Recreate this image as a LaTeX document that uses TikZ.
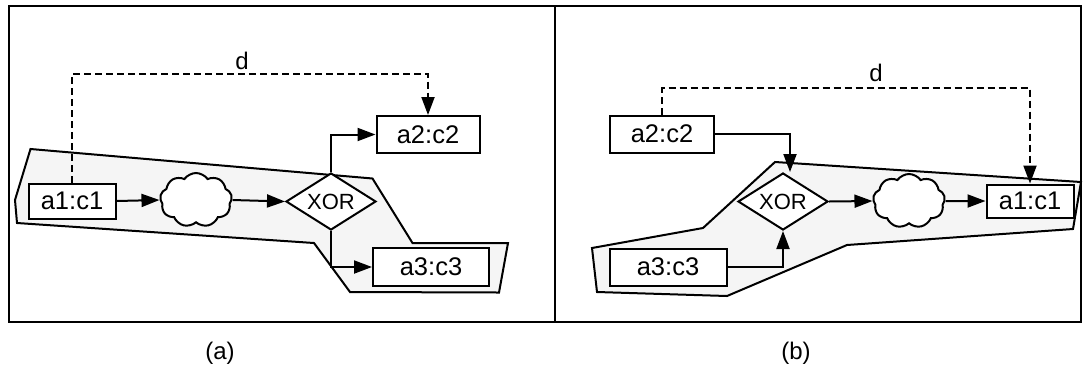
\documentclass[tikz,border=0pt]{standalone}
\usepackage{fontspec}
\setmainfont{Liberation Sans}
\usetikzlibrary{arrows.meta,shapes.geometric,shapes.symbols}
\definecolor{fillg}{RGB}{245,245,245}
\begin{document}
\begin{tikzpicture}[x=1pt,y=-1pt, line width=2pt,
  box/.style={draw, rectangle, inner sep=0pt, font=\fontsize{25.5}{28}\selectfont, fill=white},
  gate/.style={draw, diamond, minimum width=90pt, minimum height=57pt, inner sep=0pt, aspect=1.58, fill=white, font=\fontsize{22}{24}\selectfont},
  blob/.style={draw, cloud, cloud puffs=9, cloud puff arc=110, aspect=1.3, minimum width=72pt, minimum height=54pt, inner sep=0pt, fill=white},
  flow/.style={-{Triangle[length=18pt,width=13pt]}},
  dep/.style={flow, dash pattern=on 7pt off 4pt},
  region/.style={draw, fill=fillg, line join=miter},
  lbl/.style={font=\fontsize{24}{28}\selectfont, inner sep=0pt}
]
\useasboundingbox (0,0) rectangle (1083,368);
% frame
\draw[line width=2.2pt] (9,6) rectangle (1081,322);
\draw[line width=2.2pt] (555,6) -- (555,322);

% ---------- panel (a) ----------
\draw[region] (30.5,149) -- (372.5,178.5) -- (412.5,243) -- (508,243) -- (499,292.5) -- (350,292) -- (314,243) -- (17,223) -- (15,200) -- cycle;
\node[box, minimum width=87pt, minimum height=35pt] (a1) at (72,201) {a1:c1};
\node[blob] (cl) at (196,200) {};
\node[gate] (x) at (331,201.5) {XOR};
\node[box, minimum width=103pt, minimum height=37pt] (a2) at (428,134.5) {a2:c2};
\node[box, minimum width=116pt, minimum height=38pt] (a3) at (431,267) {a3:c3};
\draw[flow] (a1.east) -- (cl.west);
\draw[flow] (cl.east) -- (x.west);
\draw[flow] (x.north) |- (a2.west);
\draw[flow] (x.south) |- (a3.west);
\draw[dep] (a1.north) -- ++(0,-109) -| (a2.north);
\node[lbl] (d1) at (242,61) {d};
\node[lbl] (ca) at (220,353) {(a)};

% ---------- panel (b) ----------
\draw[region] (775,162) -- (1081,182) -- (1073,229) -- (847,245) -- (727,296) -- (597,292) -- (592,248) -- (703,228) -- cycle;
\node[box, minimum width=104pt, minimum height=37pt] (b2) at (662,134) {a2:c2};
\node[box, minimum width=117pt, minimum height=37pt] (b3) at (668,267) {a3:c3};
\node[gate] (y) at (783,201.5) {XOR};
\node[blob] (cm) at (909,201) {};
\node[box, minimum width=87pt, minimum height=33pt] (b1) at (1030,201) {a1:c1};
\coordinate (yin) at (790,172);
\draw[flow] (b2.east) -| (yin);
\draw[flow] (b3.east) -| (y.south);
\draw[flow] (y.east) -- (cm.west);
\draw[flow] (cm.east) -- (b1.west);
\draw[dep] (b2.north) -- ++(0,-26.5) -| (b1.north);
\node[lbl] (d2) at (876,73) {d};
\node[lbl] (cb) at (796,353) {(b)};
\end{tikzpicture}
\end{document}
